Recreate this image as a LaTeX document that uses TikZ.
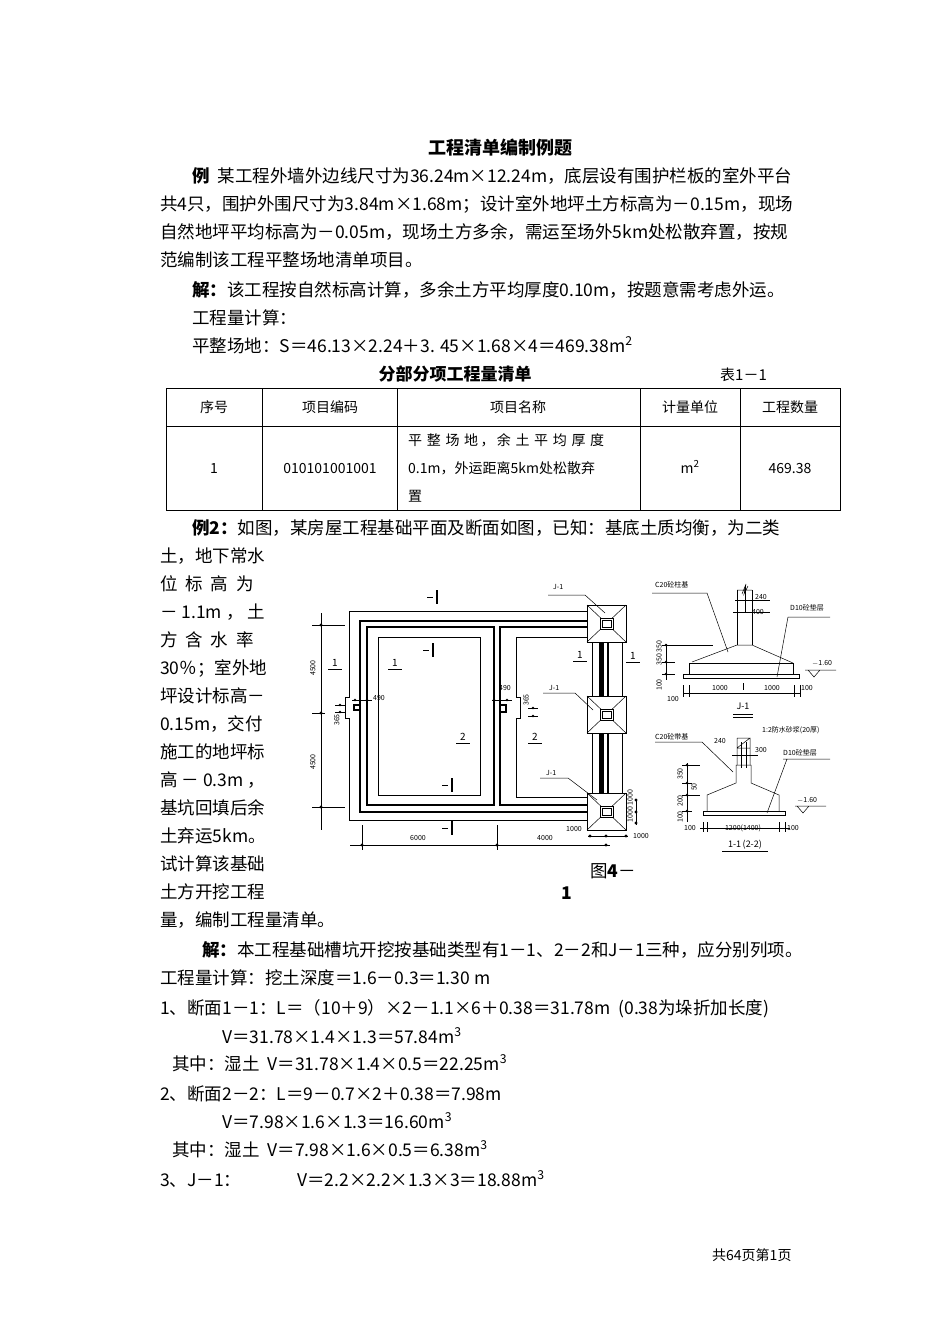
\documentclass[tikz,border=0pt]{standalone}
\usepackage{fontspec}
\setmainfont{Noto Sans CJK SC}
\begin{document}
\begin{tikzpicture}[x=1pt,y=-1pt,
 tx/.style={anchor=base west,inner sep=0,font=\fontsize{17.5}{18}\selectfont},
 tc/.style={anchor=base,inner sep=0,font=\fontsize{14}{16}\selectfont},
 sm/.style={inner sep=0,font=\fontsize{7}{8}\selectfont},
 thk/.style={line width=1.4pt},
 thn/.style={line width=0.5pt}]
\useasboundingbox (0,0) rectangle (950,1342);
\fill[white] (0,0) rectangle (950,1342);
% text
\node[tc,font=\bfseries\fontsize{18}{18}\selectfont] (title) at (500,154) {工程清单编制例题};
\node[tx] (l1) at (192,182) {\textbf{例}\ \ 某工程外墙外边线尺寸为36.24m×12.24m，底层设有围护栏板的室外平台};
\node[tx] (l2) at (160,210) {共4只，围护外围尺寸为3.84m×1.68m；设计室外地坪土方标高为－0.15m，现场};
\node[tx] (l3) at (160,238) {自然地坪平均标高为－0.05m，现场土方多余，需运至场外5km处松散弃置，按规};
\node[tx] (l4) at (160,266) {范编制该工程平整场地清单项目。};
\node[tx] (l5) at (192,296) {\textbf{解：}该工程按自然标高计算，多余土方平均厚度0.10m，按题意需考虑外运。};
\node[tx] (l6) at (192,324) {工程量计算：};
\node[tx] (l7) at (192,352) {平整场地：S＝46.13×2.24＋3. 45×1.68×4＝469.38m\textsuperscript{2}};
\node[tc,font=\bfseries\fontsize{17}{18}\selectfont] (tt) at (455,380) {分部分项工程量清单};
\node[tx,font=\fontsize{15}{16}\selectfont] (tn) at (720,380) {表1－1};
% table
\draw[thn] (166,388) rectangle (840,510) (166,426)--(840,426)
 (262,388)--(262,510) (397,388)--(397,510) (640,388)--(640,510) (740,388)--(740,510);
\node[tc] (h1) at (214,412) {序号};
\node[tc] (h2) at (330,412) {项目编码};
\node[tc] (h3) at (518,412) {项目名称};
\node[tc] (h4) at (690,412) {计量单位};
\node[tc] (h5) at (790,412) {工程数量};
\node[tc] (r1) at (214,473) {1};
\node[tc] (r2) at (330,473) {010101001001};
\node[tx,font=\fontsize{14}{16}\selectfont] (r3a) at (408,445) {平\,\,整\,\,场\,\,地\,，\,余\,\,土\,\,平\,\,均\,\,厚\,\,度};
\node[tx,font=\fontsize{14}{16}\selectfont] (r3b) at (408,473) {0.1m，外运距离5km处松散弃};
\node[tx,font=\fontsize{14}{16}\selectfont] (r3c) at (408,501) {置};
\node[tc] (r4) at (690,473) {m\textsuperscript{2}};
\node[tc] (r5) at (790,473) {469.38};
\node[tx] (e2) at (192,534) {\textbf{例2：}如图，某房屋工程基础平面及断面如图，已知：基底土质均衡，为二类};
\foreach \t [count=\i] in {土，地下常水,位\ \ 标\ \ 高\ \ 为,－\ 1.1m\ ，\ 土,方\ \ 含\ \ 水\ \ 率,30％；室外地,坪设计标高－,0.15m，交付,施工的地坪标,高\ －\ 0.3m\ ，,基坑回填后余,土弃运5km。,试计算该基础,土方开挖工程}
 \node[tx] (c\i) at (160,534+28*\i) {\t};
\node[tx] (c14) at (160,926) {量，编制工程量清单。};
\node[tx] (fg1) at (590,877) {图\textbf{4}－};
\node[tx] (fg2) at (561,899) {\textbf{1}};
\node[tx] (s1) at (202,956) {\textbf{解：}本工程基础槽坑开挖按基础类型有1－1、2－2和J－1三种，应分别列项。};
\node[tx] (s2) at (160,984) {工程量计算：挖土深度＝1.6－0.3＝1.30 m};
\node[tx] (s3) at (160,1014) {1、断面1－1：L＝（10＋9）×2－1.1×6＋0.38＝31.78m\ \ (0.38为垛折加长度)};
\node[tx] (s4) at (222,1043) {V＝31.78×1.4×1.3＝57.84m\textsuperscript{3}};
\node[tx] (s5) at (172,1070) {其中：湿土\ \ V＝31.78×1.4×0.5＝22.25m\textsuperscript{3}};
\node[tx] (s6) at (160,1100) {2、断面2－2：L＝9－0.7×2＋0.38＝7.98m};
\node[tx] (s7) at (222,1128) {V＝7.98×1.6×1.3＝16.60m\textsuperscript{3}};
\node[tx] (s8) at (172,1156) {其中：湿土\ \ V＝7.98×1.6×0.5＝6.38m\textsuperscript{3}};
\node[tx] (s9) at (160,1186) {3、J－1：};
\node[tx] (s10) at (297,1186) {V＝2.2×2.2×1.3×3＝18.88m\textsuperscript{3}};
\node[tx,font=\fontsize{14}{14}\selectfont] (ft) at (712,1260) {共64页第1页};
% ===== plan =====
\draw[thn] (587,611)--(349,611)--(349,697)--(345,697)--(345,718)--(349,718)--(349,820)--(587,820);
\draw[thn] (592,641)--(592,696) (592,733)--(592,793) (622,641)--(622,696) (622,733)--(622,793);
\draw[thk] (360,621) rectangle (602,812);
\draw[thk] (367,627) rectangle (494,805);
\draw[thk] (500,627) rectangle (600,805);
\draw[thk] (603,621)--(603,812) (608,621)--(608,812);
\draw[thn] (378,637) rectangle (480,795);
\draw[thn] (516,637)--(590,637) (516,637)--(516,697)--(520,697)--(520,718)--(516,718)--(516,797)--(590,797);
\draw[thk] (360,705)--(354,705)--(354,710)--(360,710);
\draw[thk] (500,705)--(506,705)--(506,712)--(500,712);
\foreach \y in {605,696,793}{
 \draw[thn,fill=white] (587,\y) rectangle (626,\y+37);
 \draw[thn] (587,\y)--(626,\y+37) (626,\y)--(587,\y+37);
 \draw[thn,fill=white] (600,\y+13) rectangle (613,\y+24);
 \draw[thn] (602,\y+15) rectangle (611,\y+22);}
% section marks
\foreach \x/\y in {427/597,423/650,442/785,442/828}{
 \draw[thn] (\x,\y)--(\x+6,\y); \draw[line width=1.3pt] (\x+10,\y-7)--(\x+10,\y+7);}
\foreach \x/\y/\t in {335/669/1,395/669/1,580/661/1,633/662/1,463/743/2,535/743/2}{
 \node[sm,font=\fontsize{10}{10}\selectfont,anchor=base] at (\x,\y-3) {\t};
 \draw[line width=1pt] (\x-7,\y)--(\x+7,\y);}
% J-1 labels
\node[sm,anchor=west] (j1) at (553,587) {J-1};
\draw[thn] (548,595)--(585,595)--(605,613);
\node[sm,anchor=west] (j2) at (549,688) {J-1};
\draw[thn] (543,693)--(575,693)--(593,710);
\node[sm,anchor=west] (j3) at (546,773) {J-1};
\draw[thn] (540,778)--(568,778)--(597,800);
% dimension lines
\draw[thn] (321,613)--(321,830) (312,625)--(345,625) (312,807)--(345,807) (312,713)--(325,713);
\foreach \y in {625,713,807} \fill (321,\y) circle (1.6);
\node[sm,rotate=90] at (313,668) {4500};
\node[sm,rotate=90] at (313,762) {4500};
\draw[thn] (350,845)--(610,845) (362,825)--(362,850) (497,825)--(497,850);
\foreach \x in {362,497,606} \fill (\x,845) circle (1.6);
\node[sm] at (418,838) {6000};
\node[sm] at (545,838) {4000};
\draw[thn] (588,836)--(628,836);
\foreach \x in {590,606,626} \fill (\x,836) circle (1.6);
\node[sm] at (574,829) {1000};
\node[sm] at (641,836) {1000};
\draw[thn] (636,800)--(636,825);
\foreach \y in {800,812,823} \fill (636,\y) circle (1.6);
\node[sm,rotate=90] at (630,806) {1000 1000};
\node[sm] at (379,698) {490};
\node[sm] at (505,688) {490};
\node[sm,rotate=90] at (337,720) {365};
\node[sm,rotate=90] at (526,700) {365};
\draw[thn] (335,705)--(345,705) (335,712)--(345,712) (352,700)--(372,700) (492,700)--(512,700) (528,708)--(538,708) (528,716)--(538,716);
\foreach \p in {(340,705),(340,712),(355,700),(367,700),(494,700),(507,700),(533,708),(533,716)} \fill \p circle (1.4);
% ===== J-1 section =====
\draw[thn] (683,674) rectangle (799,678);
\draw[thn] (689,674)--(689,663)--(793,663)--(793,674);
\draw[thn] (692,662)--(737,645)--(752,645)--(793,663);
\draw[thn] (737,645)--(737,590) (752,645)--(752,590);
\draw[thn] (737,590)--(752,590) (742,594)--(746,584)--(744,594)--(748,586);
\draw[thn] (735,600)--(770,600) (733,612)--(770,612) (745,585)--(745,612);
\node[sm,anchor=west] (c20a) at (655,585) {C20砼柱基};
\draw[thn] (652,593)--(707,593)--(728,652);
\node[sm,anchor=west] (d10a) at (790,608) {D10砼垫层};
\draw[thn] (788,617)--(830,617) (788,617)--(777,677);
\node[sm,anchor=west] at (755,597) {240};
\node[sm,anchor=west] at (752,612) {400};
\draw[thn] (666,644)--(666,680) (662,645)--(713,645) (662,662)--(675,662) (662,674)--(675,674);
\foreach \y in {645,662,674} \fill (666,\y) circle (1.3);
\node[sm,rotate=90] at (659,653) {350 350};
\node[sm,rotate=90] at (659,685) {100};
\node[sm,anchor=west] at (812,663) {$-$1.60};
\draw[thn] (805,670)--(836,670) (808,670)--(814,677)--(820,670);
\draw[thn] (683,693)--(800,693) (683,685)--(683,697) (689,685)--(689,697) (794,685)--(794,697) (800,685)--(800,697) (743,683)--(743,690);
\node[sm] at (720,688) {1000};
\node[sm] at (772,688) {1000};
\node[sm,anchor=west] at (801,688) {100};
\node[sm] at (673,699) {100};
\node[sm,font=\fontsize{9}{9}\selectfont] (jl) at (743,706) {J-1};
\draw[thn] (733,714)--(753,714) (733,717)--(753,717);
% ===== 1-1 section =====
\draw[thn] (703,811) rectangle (785,815);
\draw[thn] (707,811)--(707,795)--(736,783)--(736,765)--(751,765)--(751,783)--(779,795)--(779,811);
\draw[thn] (737,765)--(737,738) (750,765)--(750,738) (737,738)--(750,738)--(737,748) (737,748)--(750,748);
\draw[thn] (732,755)--(758,755) (741,742)--(741,768) (746,742)--(746,768);
\node[sm,anchor=west] (c20b) at (655,737) {C20砼带基};
\draw[thn] (655,742)--(702,742)--(733,772);
\node[sm,anchor=west] at (762,730) {1:2防水砂浆(20厚)};
\node[sm] at (720,741) {240};
\node[sm,anchor=west] at (755,750) {300};
\node[sm,anchor=west] (d10b) at (783,753) {D10砼垫层};
\draw[thn] (783,759)--(830,759) (787,759)--(767,813);
\draw[thn] (687,763)--(687,822) (682,765)--(700,765) (682,783)--(692,783) (682,795)--(700,795) (682,811)--(692,811);
\foreach \y in {765,783,795,811} \fill (687,\y) circle (1.3);
\node[sm,rotate=90] at (680,774) {350};
\node[sm,rotate=90] at (694,787) {50};
\node[sm,rotate=90] at (680,801) {200};
\node[sm,rotate=90] at (680,817) {100};
\node[sm,anchor=west] at (797,800) {$-$1.60};
\draw[thn] (795,806)--(826,806) (797,806)--(803,813)--(809,806);
\draw[thn] (700,828)--(790,828) (703,822)--(703,832) (707,822)--(707,832) (779,822)--(779,832) (785,822)--(785,832);
\node[sm] at (690,828) {100};
\node[sm] at (743,828) {1200(1400)};
\node[sm,anchor=west] at (787,828) {100};
\node[sm,font=\fontsize{9}{9}\selectfont] (sl) at (745,845) {1-1\,(2-2)};
\draw[thn] (722,851)--(768,851);
\end{tikzpicture}
\end{document}
